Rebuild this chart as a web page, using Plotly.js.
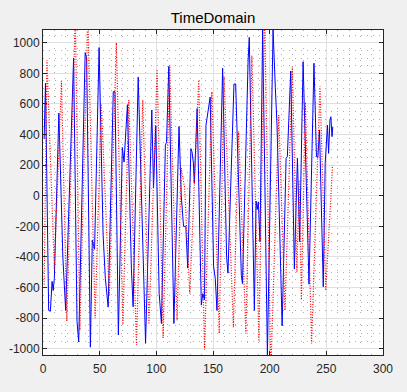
<!DOCTYPE html>
<html>
<head>
<meta charset="utf-8">
<script src="https://cdn.plot.ly/plotly-3.0.1.min.js"></script>
<style>
html,body{margin:0;padding:0;background:#f0f0f0;}
#chart{width:407px;height:392px;}
</style>
</head>
<body>
<div id="chart"></div>
<script>
// Blue solid signal: vertices (x, value)
var blueX = [1, 2.2, 5, 6.5, 8, 9, 10, 14, 17.5, 20, 27, 30, 31.5, 37.2, 38.5, 41.8, 43.5, 45.5, 49.5,
  53, 55, 57.5, 62, 63.5, 66.5, 70, 71.5, 74.5, 78, 79.5, 84, 90.5, 96, 97.5, 99.5, 102.5, 104.5,
  108, 109, 111, 115.5, 120, 122, 124, 126, 127.7, 130.5, 131.5, 132.7, 133.5, 136, 139.7, 141, 142.5,
  143.8, 145, 147.5, 150.5, 152, 153.5, 158.5, 162, 163.2, 168.5, 170, 175, 176, 181, 182, 186.5,
  188, 189, 190, 191.5, 193.8, 198, 203, 205, 206.5, 211, 214.5, 215.6, 218.6, 221.8, 224.5, 226.5,
  229.5, 234.7, 239.1, 241.3, 242.5, 244, 247.3, 249, 251, 252, 253.2, 254, 255, 255.7];
var blueY = [370, 735, -750, -755, -560, -620, -540, 540, -400, -750, 900, -820, -955, 935, 900, -990, -290, -350, 968,
  -250, -540, -728, 680, 680, -910, 315, 220, 595, -480, -725, 775, -965, 560, 50, 455, -638, -835,
  330, 350, 845, -835, 452, 0, -200, -200, -473, 308, 287, 214, 80, 570, -715, -640, -680,
  460, 530, 645, -460, -540, -750, 833, -400, -506, 730, 730, -520, -575, 887, 1035, -750,
  -35, -90, -40, -300, 1083, -1040, 1083, 705, 460, -850, 245, 255, 815, -478, 246, -300,
  876, -578, 866, 255, 250, 430, -595, 212, 462, 277, 495, 516, 386, 451];

// Red dotted signal: vertices (x, value)
var redX = [1, 3.5, 10, 16.3, 21, 28.5, 32.5, 39.5, 46, 51.5, 58.5, 64.7, 70.5, 75.7, 82.5, 88, 93.5,
  100.7, 106, 111.8, 118.3, 122, 125, 129.5, 137.4, 142.5, 149, 155.5, 159.7, 168, 172.6, 179, 184.3,
  190.5, 195.5, 201, 208, 213.5, 220, 224, 226, 228, 231.5, 237, 244.4, 249.5, 255.5];
var redY = [-580, 885, -480, 750, -820, 1180, -880, 1180, -800, 600, -650, 1000, -840, 625, -975, 625, -840,
  825, -930, 855, -815, 180, 50, -640, 756, -1005, 680, -900, 780, -860, 420, -900, 915,
  -950, 1200, -1150, 527, -750, 843, -500, 100, -680, 610, -965, 715, -620, 200];

var xTickVals = [0, 50, 100, 150, 200, 250, 300];
var xTickLabels = ['0', '50', '100', '150', '200', '250', '300'];
var yTickVals = [-1000, -800, -600, -400, -200, 0, 200, 400, 600, 800, 1000];
var yTickLabels = ['-1000', '-800', '-600', '-400', '-200', '0', '200', '400', '600', '800', '1000'];
var chartTitle = 'TimeDomain';

var axisCommon = {
  showline: true, linecolor: '#262626', linewidth: 1, mirror: 'ticks',
  ticks: 'inside', ticklen: 4, tickcolor: '#262626', tickwidth: 1,
  showgrid: true, gridcolor: '#dfdfdf', gridwidth: 1,
  zeroline: false,
  tickfont: {family: 'Liberation Sans, Arial, sans-serif', size: 12, color: '#262626'}
};

var traces = [
  {x: blueX, y: blueY, type: 'scatter', mode: 'lines',
   line: {color: '#0000ff', width: 1}, hoverinfo: 'skip'},
  {x: redX, y: redY, type: 'scatter', mode: 'lines',
   line: {color: '#ff0000', width: 1.2, dash: '1px,1.6px'}, hoverinfo: 'skip'}
];

var layout = {
  width: 407, height: 392,
  paper_bgcolor: '#f0f0f0', plot_bgcolor: '#ffffff',
  margin: {l: 43, r: 24, t: 30, b: 37, pad: 0},
  showlegend: false,
  title: {text: chartTitle, x: 0.5, xref: 'paper', y: 1 - 17.5/392, yref: 'container', yanchor: 'middle',
          font: {family: 'Liberation Sans, Arial, sans-serif', size: 15, color: '#000000'}},
  xaxis: Object.assign({}, axisCommon, {
    range: [0, 300], tickvals: xTickVals, ticktext: xTickLabels, ticklabelstandoff: 3,
    minor: {dtick: 10, showgrid: true, gridcolor: '#b0b0b0', griddash: '1px,5px', gridwidth: 1}
  }),
  yaxis: Object.assign({}, axisCommon, {
    range: [-1041, 1083], tickvals: yTickVals, ticktext: yTickLabels,
    minor: {dtick: 50, showgrid: true, gridcolor: '#b0b0b0', griddash: '1px,5px', gridwidth: 1}
  })
};

Plotly.newPlot('chart', traces, layout, {staticPlot: true, displayModeBar: false});
</script>
</body>
</html>
